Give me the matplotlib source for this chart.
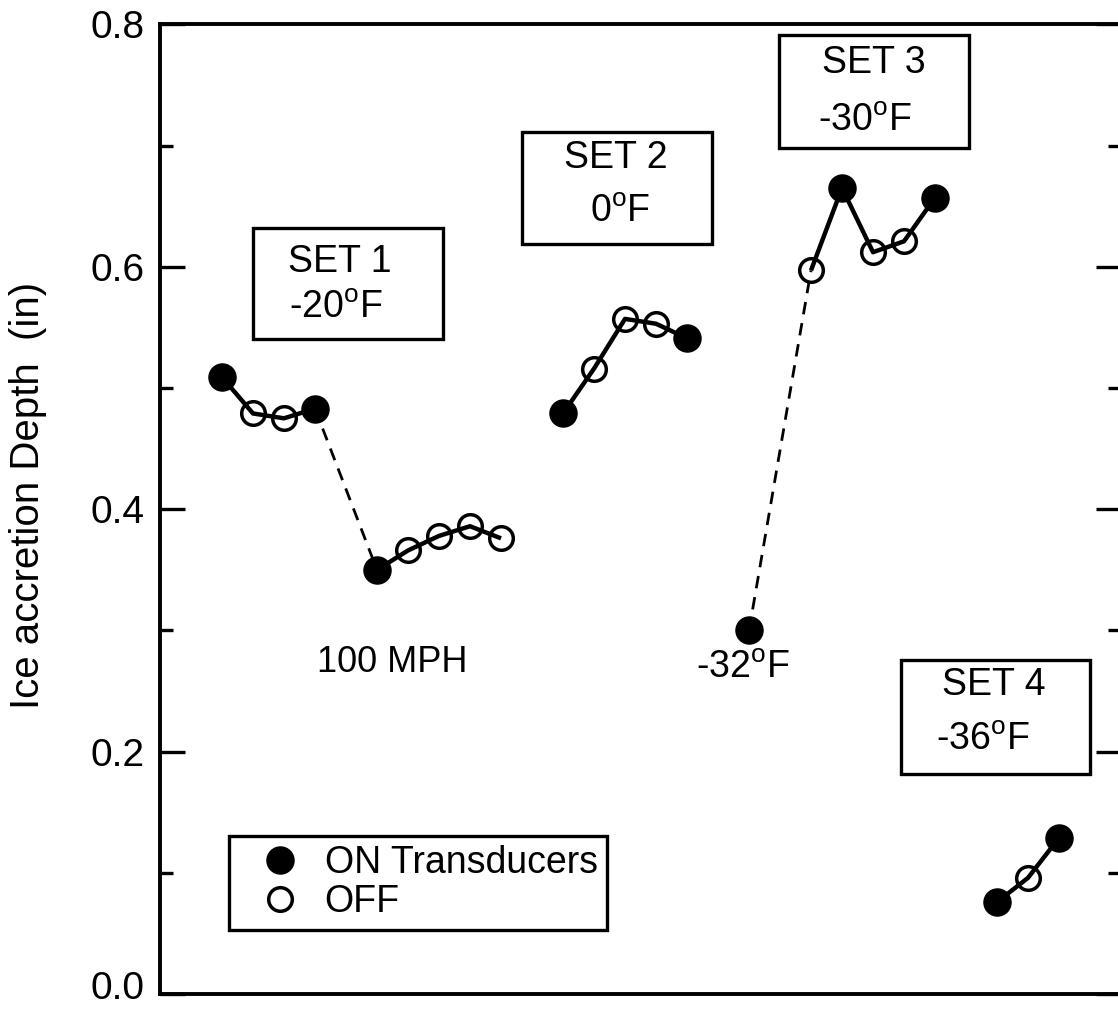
import matplotlib
matplotlib.use("Agg")
import matplotlib.pyplot as plt
from matplotlib.patches import Rectangle
from matplotlib.lines import Line2D
from matplotlib.ticker import MultipleLocator, FuncFormatter

# font setup, Helvetica-like
plt.rcParams["font.family"] = ["Liberation Sans", "DejaVu Sans"]
plt.rcParams["mathtext.fontset"] = "custom"
plt.rcParams["mathtext.rm"] = "Liberation Sans"
plt.rcParams["mathtext.it"] = "Liberation Sans:italic"

# ------------------------------------------------------------------
# data (x = test position, y = depth in inches)
# on = 1 -> transducers ON (filled), 0 -> OFF (open)
# ------------------------------------------------------------------
set1a_x = [2, 3, 4, 5]
set1a_y = [0.509, 0.479, 0.475, 0.483]
set1a_on = [1, 0, 0, 1]

set1b_x = [7, 8, 9, 10, 11]
set1b_y = [0.350, 0.366, 0.378, 0.386, 0.376]
set1b_on = [1, 0, 0, 0, 0]

set2_x = [13, 14, 15, 16, 17]
set2_y = [0.479, 0.516, 0.557, 0.553, 0.541]
set2_on = [1, 0, 0, 0, 1]

set3a_x = [19]
set3a_y = [0.300]
set3a_on = [1]

set3b_x = [21, 22, 23, 24, 25]
set3b_y = [0.597, 0.665, 0.612, 0.621, 0.657]
set3b_on = [0, 1, 0, 0, 1]

set4_x = [27, 28, 29]
set4_y = [0.076, 0.096, 0.129]
set4_on = [1, 0, 1]

groups = [
    (set1a_x, set1a_y, set1a_on),
    (set1b_x, set1b_y, set1b_on),
    (set2_x, set2_y, set2_on),
    (set3a_x, set3a_y, set3a_on),
    (set3b_x, set3b_y, set3b_on),
    (set4_x, set4_y, set4_on),
]
# dashed links: (from group, to group)
links = [(0, 1), (3, 4)]

fig = plt.figure(figsize=(11.18, 10.11), dpi=100)
ax = fig.add_axes([0.1431, 0.0166, 0.8596, 0.9594])

FS_TICK = 28
FS_TEXT = 27

# solid lines + markers
for gx, gy, gon in groups:
    if len(gx) > 1:
        ax.plot(gx, gy, color="black", lw=3.2, zorder=2, solid_capstyle="butt")
    for xi, yi, oi in zip(gx, gy, gon):
        if oi:
            ax.plot(xi, yi, "o", ms=19.5, mfc="black", mec="black", zorder=4)
        else:
            ax.plot(xi, yi, "o", ms=17, mfc="none", mec="black", mew=2.5, zorder=3)

# dashed jumps
for a, b in links:
    xa, ya = groups[a][0][-1], groups[a][1][-1]
    xb, yb = groups[b][0][0], groups[b][1][0]
    ax.plot([xa, xb], [ya, yb], color="black", lw=2.0, dashes=(4.5, 3.2), zorder=1)

# set boxes (data coords)
boxes = [
    (3.0, 0.540, 6.13, 0.092, "SET 1", (5.81, 0.604), "-20$^{\\mathrm{o}}$F", (5.67, 0.566)),
    (11.68, 0.619, 6.13, 0.092, "SET 2", (14.71, 0.690), "0$^{\\mathrm{o}}$F", (14.84, 0.645)),
    (19.97, 0.698, 6.13, 0.093, "SET 3", (23.03, 0.768), "-30$^{\\mathrm{o}}$F", (22.74, 0.720)),
    (23.9, 0.182, 6.1, 0.094, "SET 4", (26.9, 0.255), "-36$^{\\mathrm{o}}$F", (26.55, 0.210)),
]
for bx, by, bw, bh, t1, p1, t2, p2 in boxes:
    ax.add_patch(Rectangle((bx, by), bw, bh, fill=False, ec="black", lw=2.4, zorder=5))
    ax.text(p1[0], p1[1], t1, ha="center", va="center", fontsize=FS_TEXT, zorder=6)
    ax.text(p2[0], p2[1], t2, ha="center", va="center", fontsize=FS_TEXT, zorder=6)

ax.text(7.48, 0.274, "100 MPH", ha="center", va="center", fontsize=FS_TEXT - 1)
ax.text(18.8, 0.269, "-32$^{\\mathrm{o}}$F", ha="center", va="center", fontsize=FS_TEXT)

# legend
handles = [
    Line2D([], [], ls="none", marker="o", ms=19.5, mfc="black", mec="black"),
    Line2D([], [], ls="none", marker="o", ms=17, mfc="none", mec="black", mew=2.5),
]
leg = ax.legend(handles, ["ON Transducers", "OFF"], loc="upper left",
                bbox_to_anchor=(0.0718, 0.1631), borderaxespad=0,
                fontsize=FS_TEXT, borderpad=0.25, handlelength=2.2,
                handletextpad=0.1, labelspacing=0.08, fancybox=False,
                framealpha=1, edgecolor="black")
leg.get_frame().set_linewidth(2.4)

# axes
ax.set_xlim(0, 31)
ax.set_ylim(0, 0.8)
ax.yaxis.set_major_locator(MultipleLocator(0.2))
ax.yaxis.set_minor_locator(MultipleLocator(0.1))
# bottom label drawn separately so it stays inside the canvas
ax.yaxis.set_major_formatter(FuncFormatter(lambda v, p: "" if abs(v) < 1e-9 else f"{v:.1f}"))
ax.annotate("0.0", xy=(0, 0), xycoords=ax.get_yaxis_transform(),
            xytext=(-11, 4), textcoords="offset points",
            ha="right", va="center", fontsize=FS_TICK)
ax.set_xticks([])
ax.tick_params(axis="y", which="both", direction="in", left=True, right=True,
               width=2.4, labelsize=FS_TICK, pad=11)
ax.tick_params(axis="y", which="major", length=18)
ax.tick_params(axis="y", which="minor", length=9.5)
for s in ax.spines.values():
    s.set_linewidth(2.8)

ax.set_ylabel("Ice accretion Depth  (in)", fontsize=FS_TEXT + 2)
ax.yaxis.set_label_coords(-0.1176, 0.5146)

fig.savefig("out.png", dpi=100)
